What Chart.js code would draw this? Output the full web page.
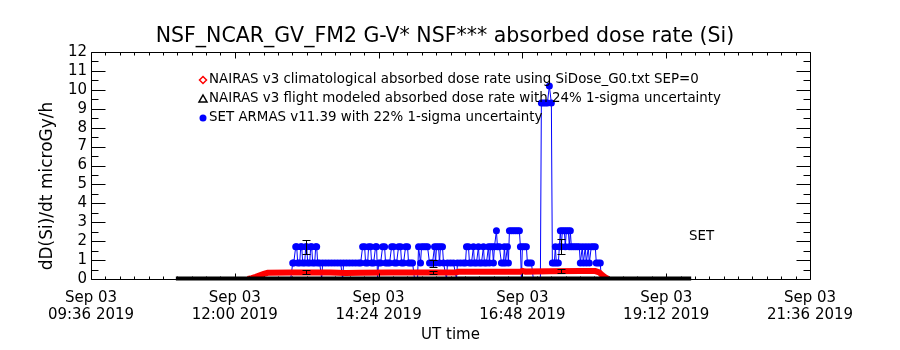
<!DOCTYPE html>
<html>
<head>
<meta charset="utf-8">
<script src="https://cdn.jsdelivr.net/npm/chart.js"></script>
<style>
  html, body { margin: 0; padding: 0; background: #fff; }
</style>
</head>
<body>
<canvas id="chart" width="900" height="350"></canvas>
<script>
// ===== dados (tempo em minutos depois de 09:36 UT)
const xTickLabels = ['09:36', '12:00', '14:24', '16:48', '19:12', '21:36'];
const xTickMinutes = [0, 144, 288, 432, 576, 720];
const xTickDay = 'Sep 03';
const xTickYear = '2019';
const yTickValues = [0, 1, 2, 3, 4, 5, 6, 7, 8, 9, 10, 11, 12];

// SET ARMAS (azul)
const blueMin = [
  85, 200, 202, 203, 205, 206, 207, 209, 210, 211, 212, 214, 215, 216, 217, 219, 220, 221, 222, 224,
  225, 226, 227, 229, 231, 232, 235, 238, 241, 244, 247, 250, 252, 253, 256, 259, 262, 265, 268, 270,
  272, 274, 275, 277, 278, 280, 281, 283, 285, 286, 287, 288, 290, 292, 294, 295, 297, 299, 301, 303,
  304, 306, 308, 310, 311, 313, 315, 317, 318, 320, 322, 324, 327, 328, 330, 331, 333, 335, 337, 339,
  341, 342, 344, 345, 346, 348, 349, 350, 352, 353, 356, 357, 360, 363, 366, 367, 370, 373, 375, 376,
  378, 379, 381, 383, 384, 386, 388, 389, 391, 393, 394, 396, 398, 399, 400, 402, 403, 404, 406, 407,
  409, 411, 413, 414, 415, 417, 418, 419, 421, 423, 425, 427, 429, 430, 431, 432, 434, 436, 437, 439,
  441, 443, 450, 451, 453, 455, 457, 459, 461, 462, 464, 465, 466, 468, 469, 470, 471, 472, 474,
  475, 476, 478, 479, 480, 481, 483, 485, 487, 489, 490, 492, 493, 495, 496, 498, 499, 501, 503, 505,
  506, 508, 510, 511, 601];
const blueVal = [
  0, 0, 0.85, 0.85, 1.7, 1.7, 0.85, 0.85, 1.7, 1.7, 0.85, 0.85, 1.7, 1.7, 0.85, 0.85, 1.7, 1.7, 0.85, 0.85,
  1.7, 1.7, 0.85, 0.85, 0, 0.85, 0.85, 0.85, 0.85, 0.85, 0.85, 0.85, 0, 0.85, 0.85, 0.85, 0.85, 0.85, 0.85, 0.85,
  1.7, 1.7, 0.85, 0.85, 1.7, 1.7, 0.85, 0.85, 1.7, 1.7, 0, 0.85, 0.85, 1.7, 1.7, 0.85, 0.85, 0.85, 1.7, 1.7,
  0.85, 0.85, 1.7, 1.7, 0.85, 0.85, 1.7, 1.7, 0.85, 0.85, 0.85, 0, 0, 1.7, 0.85, 1.7, 1.7, 1.7, 1.7, 0.85,
  0.85, 0.85, 1.7, 0.85, 1.7, 1.7, 0.85, 1.7, 1.7, 0.85, 0, 0.85, 0.85, 0.85, 0, 0.85, 0.85, 0.85, 0.85, 1.7,
  1.7, 0.85, 0.85, 1.7, 0.85, 0.85, 1.7, 0.85, 0.85, 1.7, 0.85, 0.85, 1.7, 0.85, 1.7, 1.7, 0.85, 1.7, 2.55, 1.7,
  1.7, 0.85, 0.85, 1.7, 0.85, 1.7, 0.85, 2.55, 2.55, 2.55, 2.55, 2.55, 2.55, 1.7, 0, 1.7, 1.7, 1.7, 0.85, 0.85,
  0.85, 0, 0, 9.3, 9.3, 9.3, 9.3, 10.2, 9.3, 0.85, 0.85, 1.7, 0.85, 0.85, 1.7, 2.55, 1.7, 2.55, 2.55,
  1.7, 2.55, 2.55, 1.7, 2.55, 1.7, 1.7, 1.7, 1.7, 1.7, 0.85, 1.7, 0.85, 1.7, 0.85, 1.7, 0.85, 1.7, 1.7, 1.7,
  0.85, 0.85, 0.85, 0, 0];

// NAIRAS climatológico (vermelho)
const redMin = [157, 161, 165, 169, 173, 177, 200, 240, 255, 270, 300, 340, 365, 368, 400, 430, 432, 435, 460, 490, 505, 509, 512, 515, 518];
const redVal = [0, 0.05, 0.12, 0.2, 0.27, 0.33, 0.35, 0.35, 0.32, 0.33, 0.35, 0.35, 0.35, 0.38, 0.38, 0.38, 0.43, 0.39, 0.41, 0.42, 0.42, 0.35, 0.2, 0.08, 0];

// NAIRAS modelo de voo (preto)
const blackMin = [85, 200, 300, 400, 500, 601];
const blackVal = [0.02, 0.02, 0.02, 0.02, 0.02, 0.02];

// barras de erro (1-sigma)
const errMin = [215, 342, 471];
const blueErrLow = [1.33, 0.66, 1.3];
const blueErrHigh = [2.07, 1.0, 2.09];
const redErrLow = [0.28, 0.27, 0.31];
const redErrHigh = [0.48, 0.43, 0.52];

const titleText = 'NSF_NCAR_GV_FM2 G-V* NSF*** absorbed dose rate (Si)';
const legendLabels = [
  'NAIRAS v3 climatological absorbed dose rate using SiDose_G0.txt SEP=0',
  'NAIRAS v3 flight modeled absorbed dose rate with 24% 1-sigma uncertainty',
  'SET ARMAS v11.39 with 22% 1-sigma uncertainty'
];

const FONT = 'DejaVu Sans';
const pts = (xs, ys) => xs.map((m, i) => ({ x: m, y: ys[i] }));

// ===== moldura estilo IDL: caixa, ticks, legenda, títulos
const idlFrame = {
  id: 'idlFrame',
  afterDatasetsDraw(chart) {
    const { ctx, scales: { x, y } } = chart;
    ctx.save();
    ctx.strokeStyle = '#000';
    ctx.lineWidth = 1;
    errMin.forEach((m, i) => {
      const px = Math.round(x.getPixelForValue(m)) + 0.5;
      [[blueErrLow[i], blueErrHigh[i]], [redErrLow[i], redErrHigh[i]]].forEach(([lo, hi]) => {
        const y1 = Math.round(y.getPixelForValue(lo)) + 0.5;
        const y2 = Math.round(y.getPixelForValue(hi)) + 0.5;
        ctx.beginPath();
        ctx.moveTo(px, y1); ctx.lineTo(px, y2);
        ctx.moveTo(px - 4, y1); ctx.lineTo(px + 4, y1);
        ctx.moveTo(px - 4, y2); ctx.lineTo(px + 4, y2);
        ctx.stroke();
      });
    });
    ctx.restore();
  },
  afterDraw(chart) {
    const { ctx, chartArea: a, scales: { x, y } } = chart;
    ctx.save();
    ctx.strokeStyle = '#000';
    ctx.lineWidth = 1;
    const L = Math.round(a.left) + 0.5, R = Math.round(a.right) + 0.5;
    const T = Math.round(a.top) + 0.5, B = Math.round(a.bottom) + 0.5;
    ctx.beginPath();
    ctx.rect(L, T, R - L, B - T);

    // ticks eixo x (10 subdivisões)
    for (let i = 0; i <= 50; i++) {
      const px = Math.round(x.getPixelForValue(i * 14.4)) + 0.5;
      const len = i % 10 === 0 ? 6 : 3;
      ctx.moveTo(px, B); ctx.lineTo(px, B - len);
      ctx.moveTo(px, T); ctx.lineTo(px, T + len);
    }
    // ticks eixo y
    for (let v = 0; v <= 12; v += 0.5) {
      const py = Math.round(y.getPixelForValue(v)) + 0.5;
      const len = Number.isInteger(v) ? 14 : 7;
      ctx.moveTo(L, py); ctx.lineTo(L + len, py);
      ctx.moveTo(R, py); ctx.lineTo(R - len, py);
    }
    ctx.stroke();

    // título
    ctx.fillStyle = '#000';
    ctx.textBaseline = 'middle';
    ctx.textAlign = 'center';
    ctx.font = `20.5px "${FONT}"`;
    ctx.fillText(titleText, 445, 37);

    // legenda
    const rows = [80, 99, 118];
    const mx = 203;
    ctx.lineWidth = 1.5;
    ctx.strokeStyle = '#ff0000';
    ctx.beginPath();
    ctx.moveTo(mx, rows[0] - 3.5); ctx.lineTo(mx + 3.5, rows[0]);
    ctx.lineTo(mx, rows[0] + 3.5); ctx.lineTo(mx - 3.5, rows[0]); ctx.closePath();
    ctx.stroke();
    ctx.strokeStyle = '#000';
    ctx.beginPath();
    ctx.moveTo(mx, rows[1] - 4); ctx.lineTo(mx + 4, rows[1] + 3);
    ctx.lineTo(mx - 4, rows[1] + 3); ctx.closePath();
    ctx.stroke();
    ctx.fillStyle = '#0000ff';
    ctx.beginPath();
    ctx.arc(mx, rows[2], 3.5, 0, Math.PI * 2);
    ctx.fill();

    ctx.fillStyle = '#000';
    ctx.font = `13.4px "${FONT}"`;
    ctx.textAlign = 'left';
    legendLabels.forEach((t, i) => ctx.fillText(t, 209, rows[i]));
    ctx.fillText('SET', 689, 237);

    // títulos dos eixos
    ctx.font = `15px "${FONT}"`;
    ctx.textAlign = 'center';
    ctx.fillText('UT time', (a.left + a.right) / 2, 335);
    ctx.translate(48, 186);
    ctx.rotate(-Math.PI / 2);
    ctx.font = `17px "${FONT}"`;
    ctx.fillText('dD(Si)/dt microGy/h', 0, 0);
    ctx.restore();
  }
};

new Chart(document.getElementById('chart'), {
  type: 'line',
  data: {
    datasets: [
      {
        label: legendLabels[2],
        data: pts(blueMin, blueVal),
        borderColor: '#0000ff',
        borderWidth: 1,
        pointStyle: 'circle',
        pointRadius: c => (c.raw && c.raw.y > 0 ? 3.5 : 0),
        pointBackgroundColor: '#0000ff',
        pointBorderWidth: 0,
        order: 3
      },
      {
        label: legendLabels[0],
        data: pts(redMin, redVal),
        borderColor: '#ff0000',
        borderWidth: 6,
        pointRadius: 0,
        order: 2
      },
      {
        label: legendLabels[1],
        data: pts(blackMin, blackVal),
        borderColor: '#000',
        borderWidth: 4,
        pointRadius: 0,
        clip: false,
        order: 1
      }
    ]
  },
  options: {
    responsive: false,
    animation: false,
    devicePixelRatio: 1,
    layout: { padding: { left: 0, right: 90, top: 52, bottom: 0 } },
    plugins: {
      legend: { display: false },
      tooltip: { enabled: false },
      title: { display: false }
    },
    scales: {
      x: {
        type: 'linear',
        min: 0,
        max: 720,
        afterBuildTicks: s => { s.ticks = xTickMinutes.map(v => ({ value: v })); },
        afterFit: s => { s.height = 71; },
        grid: { display: false, drawTicks: false },
        border: { display: false },
        ticks: {
          autoSkip: false,
          maxRotation: 0,
          padding: 11,
          color: '#000',
          font: { family: FONT, size: 15, lineHeight: 1.1 },
          callback: (v, i) => [xTickDay, xTickLabels[i] + ' ' + xTickYear]
        }
      },
      y: {
        min: 0,
        max: 12,
        afterBuildTicks: s => { s.ticks = yTickValues.map(v => ({ value: v })); },
        afterFit: s => { s.width = 91; },
        grid: { display: false, drawTicks: false },
        border: { display: false },
        ticks: {
          autoSkip: false,
          padding: 4,
          color: '#000',
          font: { family: FONT, size: 15 }
        }
      }
    }
  },
  plugins: [idlFrame]
});
</script>
</body>
</html>
